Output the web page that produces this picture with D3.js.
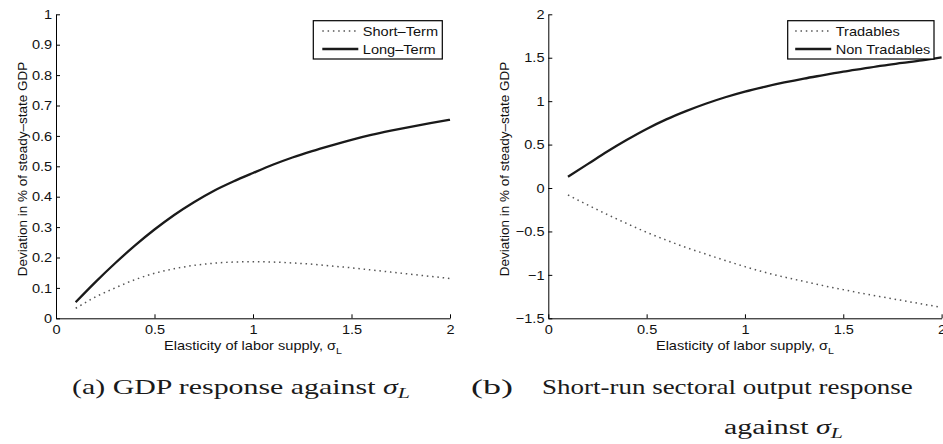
<!DOCTYPE html>
<html><head><meta charset="utf-8">
<script src="https://cdn.jsdelivr.net/npm/d3@7"></script>
<style>
body{margin:0;background:#fff}
svg{display:block;background:#fff}
text{font-family:"Liberation Sans",Arial,Helvetica,sans-serif;fill:#111}
.cap{font-family:"Liberation Serif","Times New Roman",serif;fill:#1a1a1a}
</style>
</head><body>
<svg id="c" width="943" height="444"></svg>
<script>
// ---- data ----
const sigmaL = [0.1,0.2,0.3,0.4,0.5,0.6,0.7,0.8,0.9,1.0,1.1,1.2,1.3,1.4,1.5,1.6,1.7,1.8,1.9,2.0];
const shortTerm = [0.033,0.070,0.100,0.127,0.148,0.163,0.174,0.181,0.185,0.186,0.185,0.182,0.178,0.172,0.166,0.159,0.152,0.145,0.138,0.131];
const longTerm  = [0.053,0.119,0.181,0.239,0.292,0.340,0.382,0.419,0.450,0.478,0.505,0.529,0.550,0.569,0.587,0.603,0.617,0.630,0.642,0.653];
const tradables    = [-0.08,-0.195,-0.305,-0.41,-0.51,-0.60,-0.685,-0.76,-0.835,-0.905,-0.97,-1.025,-1.075,-1.125,-1.17,-1.215,-1.255,-1.295,-1.335,-1.375];
const nonTradables = [0.13,0.275,0.42,0.555,0.68,0.79,0.885,0.97,1.045,1.11,1.165,1.215,1.26,1.30,1.34,1.375,1.41,1.44,1.47,1.505];
const xTicks  = [0,0.5,1,1.5,2];
const yTicksA = [0,0.1,0.2,0.3,0.4,0.5,0.6,0.7,0.8,0.9,1];
const yTicksB = [-1.5,-1,-0.5,0,0.5,1,1.5,2];
const legendA = ["Short\u2013Term","Long\u2013Term"];
const legendB = ["Tradables","Non Tradables"];
const yLabel = "Deviation in % of steady\u2013state GDP";
const xLabel = "Elasticity of labor supply, \u03c3";

const svg = d3.select("#c");
const K = 1.12; // horizontal glyph stretch of the reference
const FS = 13;

function stretch(node, k){
  const bb = node.getBBox();
  const anc = node.getAttribute("text-anchor") || getComputedStyle(node).textAnchor || "start";
  let ax = bb.x;
  if (anc === "middle") ax = bb.x + bb.width/2;
  else if (anc === "end") ax = bb.x + bb.width;
  node.setAttribute("transform", `translate(${ax},0) scale(${k},1) translate(${-ax},0)`);
}
const fmt = v => (v < 0 ? "\u2212" : "") + String(Math.abs(v));

function panel(cfg){
  const x = d3.scaleLinear().domain([0,2]).range([cfg.left, cfg.right]);
  const y = d3.scaleLinear().domain(cfg.yDomain).range([cfg.bottom, cfg.top]);
  const g = svg.append("g");

  const ax = g.append("g").attr("transform",`translate(0,${cfg.bottom})`)
    .call(d3.axisBottom(x).tickValues(xTicks).tickFormat(fmt).tickSizeInner(-4).tickSizeOuter(0).tickPadding(6.5));
  const ay = g.append("g").attr("transform",`translate(${cfg.left},0)`)
    .call(d3.axisLeft(y).tickValues(cfg.yTicks).tickFormat(fmt).tickSizeInner(-4).tickSizeOuter(0).tickPadding(3.8));
  [ax,ay].forEach(a=>{
    a.select(".domain").attr("stroke","#000").attr("stroke-width",1);
    a.selectAll(".tick line").attr("stroke","#000").attr("stroke-width",1);
    a.selectAll(".tick text").attr("font-size",FS).attr("font-family",null).style("fill","#111");
  });
  ax.selectAll(".tick text").each(function(){ stretch(this,K); });
  ay.selectAll(".tick text").each(function(){ stretch(this,K); });

  const line = d3.line().x((d,i)=>x(sigmaL[i])).y(d=>y(d)).curve(d3.curveMonotoneX);
  g.append("path").datum(cfg.dotted).attr("d",line).attr("fill","none")
    .attr("stroke","#555").attr("stroke-width",1.5).attr("stroke-dasharray","1.5,3.8");
  g.append("path").datum(cfg.solid).attr("d",line).attr("fill","none")
    .attr("stroke","#1a1a1a").attr("stroke-width",2.3);

  // y label
  g.append("text").attr("transform",`translate(${cfg.yLabX},${cfg.yLabY}) rotate(-90)`)
    .attr("text-anchor","middle").attr("font-size",13.5).text(yLabel);
  // x label
  const xl = g.append("text").attr("x",(cfg.left+cfg.right)/2).attr("y",350)
    .attr("text-anchor","middle").attr("font-size",FS);
  xl.append("tspan").text(xLabel);
  xl.append("tspan").attr("dy",4).attr("font-size",9.5).text("L");
  stretch(xl.node(),K);

  // legend
  const lg = g.append("g");
  lg.append("rect").attr("x",cfg.legX).attr("y",20.7).attr("width",cfg.legW).attr("height",38.3)
    .attr("fill","#fff").attr("stroke","#000").attr("stroke-width",1.2);
  const rows = [{y:31,dot:true},{y:49,dot:false}];
  rows.forEach((r,i)=>{
    lg.append("line").attr("x1",cfg.legX+cfg.sampleOff).attr("x2",cfg.legX+cfg.sampleOff+36)
      .attr("y1",r.y).attr("y2",r.y)
      .attr("stroke", r.dot ? "#555" : "#1a1a1a")
      .attr("stroke-width", r.dot ? 1.5 : 2.3)
      .attr("stroke-dasharray", r.dot ? "1.5,3.8" : null);
    const t = lg.append("text").attr("x",cfg.legX+cfg.sampleOff+40.5).attr("y",r.y+4.6)
      .attr("font-size",FS).text(cfg.legend[i]);
    stretch(t.node(),K);
  });
}

panel({left:56, right:450, top:14.3, bottom:318.3, yDomain:[0,1], yTicks:yTicksA,
  dotted:shortTerm, solid:longTerm, legend:legendA, legX:313.3, legW:129, sampleOff:9,
  yLabX:26.5, yLabY:169});
panel({left:548.3, right:941.6, top:14.3, bottom:318.3, yDomain:[-1.5,2], yTicks:yTicksB,
  dotted:tradables, solid:nonTradables, legend:legendB, legX:787.7, legW:146.3, sampleOff:7.5,
  yLabX:509, yLabY:169});

// captions
function caption(x0, base, targetW, build){
  const g = svg.append("g");
  const t = g.append("text").attr("class","cap").attr("x",0).attr("y",0).attr("font-size",20.5);
  build(t);
  const w = t.node().getBBox().width;
  g.attr("transform",`translate(${x0},${base}) scale(${targetW/w},1)`);
}
function sigmaSub(t){
  t.append("tspan").attr("font-style","italic").text("\u03c3");
  t.append("tspan").attr("font-style","italic").attr("font-size",15).attr("dy",3.5).text("L");
}
caption(72, 394, 338, t=>{ t.append("tspan").text("(a) GDP response against "); sigmaSub(t); });
caption(471, 394, 42, t=>{ t.text("(b)"); });
caption(542, 394, 371, t=>{ t.text("Short-run sectoral output response"); });
caption(724, 434, 119, t=>{ t.append("tspan").text("against "); sigmaSub(t); });
</script>
</body></html>
